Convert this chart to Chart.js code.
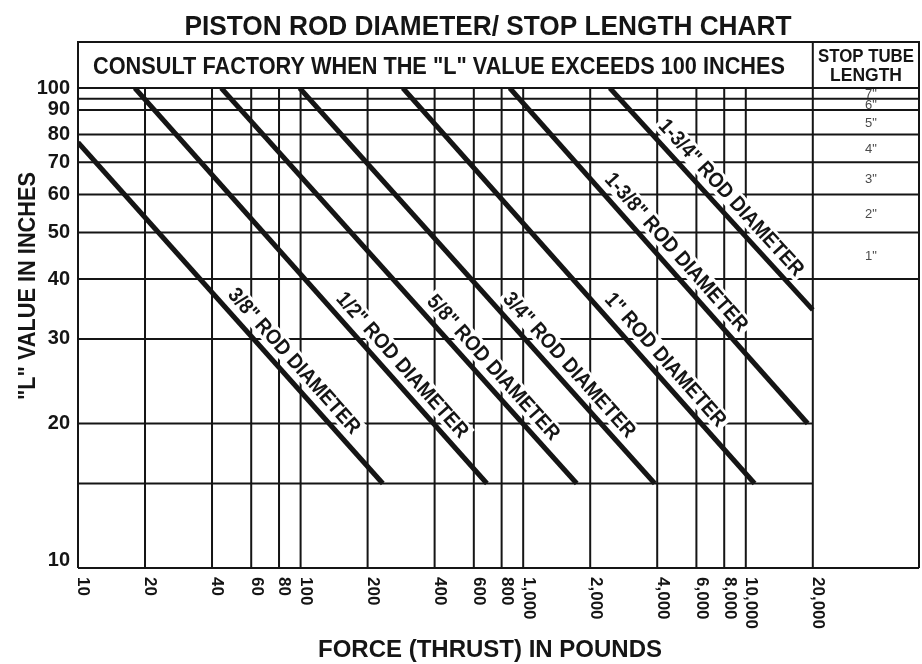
<!DOCTYPE html>
<html>
<head>
<meta charset="utf-8">
<title>Piston rod diameter / stop length chart</title>
<script src="https://cdn.jsdelivr.net/npm/chart.js@4.4.1/dist/chart.umd.min.js"></script>
<style>
  html, body { margin: 0; padding: 0; background: #fff; }
  #wrap { width: 922px; height: 664px; }
</style>
</head>
<body>
<div id="wrap"><canvas id="rodChart" width="922" height="664"></canvas></div>
<script>
// force (lb) values where the vertical rules sit
const forceTicks = [10, 20, 40, 60, 80, 100, 200, 400, 600, 800, 1000, 2000, 4000, 6000, 8000, 10000, 20000];
const forceTickLabels = ['10', '20', '40', '60', '80', '100', '200', '400', '600', '800', '1,000', '2,000', '4,000', '6,000', '8,000', '10,000', '20,000'];

// "L" values with a number on the left
const lengthTicks = [100, 90, 80, 70, 60, 50, 40, 30, 20, 10];
// rules that run on through the stop tube column
const lengthRulesFull = [100, 95, 90, 80, 70, 60, 50, 40, 10];
// rules that stop at 20,000 lb
const lengthRulesShort = [30, 20, 15];

const stopTubeLabels = ['7"', '6"', '5"', '4"', '3"', '2"', '1"'];
const stopTubeBounds = [100, 95, 90, 80, 70, 60, 50, 40];

// one straight line per rod (log-log), start and end
const rodNames = ['3/8"', '1/2"', '5/8"', '3/4"', '1"', '1-3/8"', '1-3/4"'];
const rodStartForce = [10, 18, 44, 99, 288, 870, 2450];
const rodStartL = [77, 100, 100, 100, 100, 100, 100];
const rodEndForce = [234, 687, 1740, 3900, 10950, 18970, 20000];
const rodEndL = [15, 15, 15, 15, 15, 20, 34.5];
// force where each rod caption sits along its line
const rodLabelForce = [83, 254, 652, 1430, 3860, 4325, 7635];

const INK = '#151515';
const FONT = "'Liberation Sans', Arial, Helvetica, sans-serif";

// draw text squeezed to a given width (the original uses a condensed face)
function fitText(ctx, text, x, y, font, width, align) {
  ctx.save();
  ctx.font = font;
  const w = ctx.measureText(text).width;
  const s = width ? width / w : 1;
  ctx.translate(x, y);
  ctx.scale(s, 1);
  ctx.textAlign = align || 'center';
  ctx.fillText(text, 0, 0);
  ctx.restore();
}

const sheetPlugin = {
  id: 'sheet',
  beforeDatasetsDraw(chart) {
    const { ctx, chartArea: a, scales: { x, y } } = chart;
    const boxTop = 42;
    const xSplit = x.getPixelForValue(20000);

    ctx.save();
    ctx.strokeStyle = INK;
    ctx.lineWidth = 2;
    ctx.beginPath();
    forceTicks.forEach(v => {
      const px = x.getPixelForValue(v);
      const top = (v === 10 || v === 20000) ? boxTop : a.top;
      ctx.moveTo(px, top);
      ctx.lineTo(px, a.bottom);
    });
    ctx.moveTo(a.right, boxTop);
    ctx.lineTo(a.right, a.bottom);
    ctx.moveTo(a.left - 1, boxTop);
    ctx.lineTo(a.right + 1, boxTop);
    lengthRulesFull.forEach(v => {
      const py = y.getPixelForValue(v);
      ctx.moveTo(a.left, py);
      ctx.lineTo(a.right, py);
    });
    lengthRulesShort.forEach(v => {
      const py = y.getPixelForValue(v);
      ctx.moveTo(a.left, py);
      ctx.lineTo(xSplit, py);
    });
    ctx.stroke();

    ctx.fillStyle = INK;
    ctx.textBaseline = 'alphabetic';
    fitText(ctx, 'PISTON ROD DIAMETER/ STOP LENGTH CHART', 488, 35, 'bold 28px ' + FONT, 607);
    fitText(ctx, 'CONSULT FACTORY WHEN THE "L" VALUE EXCEEDS 100 INCHES', 439, 74, 'bold 23px ' + FONT, 692);
    fitText(ctx, 'STOP TUBE', 866, 62, 'bold 18px ' + FONT, 96);
    fitText(ctx, 'LENGTH', 866, 81, 'bold 18px ' + FONT, 72);

    // stop tube lengths
    ctx.fillStyle = '#4a4a4a';
    ctx.textBaseline = 'middle';
    stopTubeLabels.forEach((t, i) => {
      const py = (y.getPixelForValue(stopTubeBounds[i]) + y.getPixelForValue(stopTubeBounds[i + 1])) / 2;
      fitText(ctx, t, 871, py + 1, '13px ' + FONT);
    });

    // y numbers
    ctx.fillStyle = INK;
    lengthTicks.forEach(v => {
      const py = Math.min(y.getPixelForValue(v), a.bottom - 8);
      fitText(ctx, String(v), 70, py, 'bold 20px ' + FONT, null, 'right');
    });

    // x numbers, turned to read downwards
    forceTicks.forEach((v, i) => {
      const px = x.getPixelForValue(v);
      ctx.save();
      ctx.translate(px + 5, a.bottom + 9);
      ctx.rotate(Math.PI / 2);
      ctx.font = 'bold 17px ' + FONT;
      ctx.textAlign = 'left';
      ctx.textBaseline = 'middle';
      ctx.fillText(forceTickLabels[i], 0, 0);
      ctx.restore();
    });

    ctx.textBaseline = 'alphabetic';
    fitText(ctx, 'FORCE (THRUST) IN POUNDS', 490, 657, 'bold 23px ' + FONT, 344);
    ctx.save();
    ctx.translate(35, 286);
    ctx.rotate(-Math.PI / 2);
    fitText(ctx, '"L" VALUE IN INCHES', 0, 0, 'bold 24px ' + FONT, 228);
    ctx.restore();
    ctx.restore();
  },
  afterDatasetsDraw(chart) {
    const { ctx, scales: { x, y } } = chart;
    const lg = Math.log10;
    ctx.save();
    rodNames.forEach((name, i) => {
      const x0 = x.getPixelForValue(rodStartForce[i]), y0 = y.getPixelForValue(rodStartL[i]);
      const x1 = x.getPixelForValue(rodEndForce[i]), y1 = y.getPixelForValue(rodEndL[i]);
      const t = (lg(rodLabelForce[i]) - lg(rodStartForce[i])) / (lg(rodEndForce[i]) - lg(rodStartForce[i]));
      const lv = Math.pow(10, lg(rodStartL[i]) + t * (lg(rodEndL[i]) - lg(rodStartL[i])));
      const px = x.getPixelForValue(rodLabelForce[i]);
      const py = y.getPixelForValue(lv);
      const ang = Math.atan2(y1 - y0, x1 - x0);
      const off = 16;
      const text = name + ' ROD DIAMETER';
      ctx.save();
      ctx.translate(px + Math.sin(ang) * off, py - Math.cos(ang) * off);
      ctx.rotate(ang);
      // taller face, squeezed back to the same length
      ctx.font = 'bold 19px ' + FONT;
      const w = ctx.measureText(text).width;
      ctx.fillStyle = '#fff';
      ctx.fillRect(-w / 2 - 3, -10.5, w + 6, 21);
      ctx.font = 'bold 21px ' + FONT;
      const w2 = ctx.measureText(text).width;
      ctx.scale(w / w2, 1);
      ctx.fillStyle = INK;
      ctx.textAlign = 'center';
      ctx.textBaseline = 'middle';
      ctx.fillText(text, 0, 1);
      ctx.restore();
    });
    ctx.restore();
  }
};

const datasets = rodNames.map((name, i) => ({
  label: name + ' ROD DIAMETER',
  data: [
    { x: rodStartForce[i], y: rodStartL[i] },
    { x: rodEndForce[i], y: rodEndL[i] }
  ],
  showLine: true,
  borderColor: INK,
  borderWidth: 5,
  borderCapStyle: 'butt',
  pointRadius: 0,
  fill: false
}));

new Chart(document.getElementById('rodChart'), {
  type: 'scatter',
  data: { datasets },
  options: {
    responsive: false,
    animation: false,
    layout: { padding: { top: 88, right: 3, left: 0, bottom: 0 } },
    plugins: {
      legend: { display: false },
      tooltip: { enabled: false }
    },
    scales: {
      x: {
        type: 'logarithmic',
        min: 10,
        max: 60000,
        ticks: { display: false },
        grid: { display: false },
        border: { display: false },
        afterFit: scale => { scale.height = 96; }
      },
      y: {
        type: 'logarithmic',
        min: 10,
        max: 100,
        ticks: { display: false },
        grid: { display: false },
        border: { display: false },
        afterFit: scale => { scale.width = 78; }
      }
    }
  },
  plugins: [sheetPlugin]
});
</script>
</body>
</html>
